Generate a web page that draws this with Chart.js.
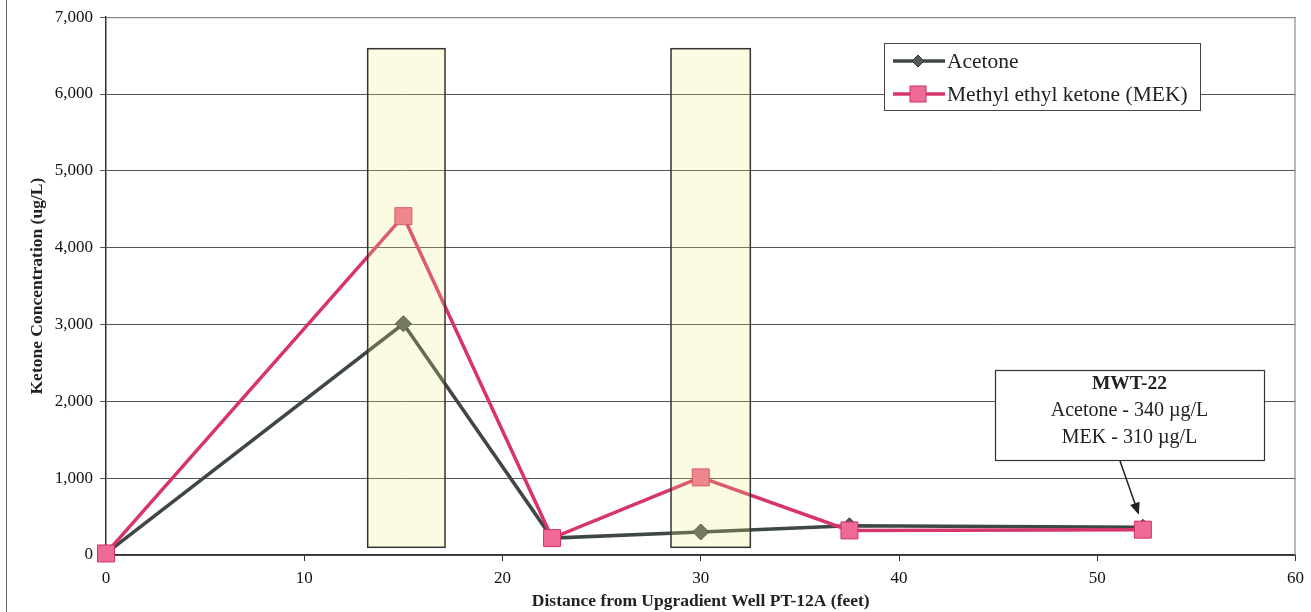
<!DOCTYPE html>
<html>
<head>
<meta charset="UTF-8">
<title>Ketone Concentration</title>
<script src="https://cdn.jsdelivr.net/npm/chart.js@4"></script>
<style>
  html, body { margin: 0; padding: 0; background: #fff; }
  #wrap { width: 1311px; height: 612px; }
</style>
</head>
<body>
<div id="wrap"><canvas id="myChart" width="1311" height="612"></canvas></div>
<script>
// distance from upgradient well (feet)
const distance = [0, 15, 22.5, 30, 37.5, 52.3];
const acetone = [20, 3010, 220, 300, 380, 360];
const mek = [20, 4410, 220, 1010, 320, 330];
const seriesNames = ['Acetone', 'Methyl ethyl ketone (MEK)'];
// shaded zones along the transect: [from, to] in feet, concentration range
const zones = [[13.2, 17.1], [28.5, 32.5]];
const zoneRange = [100, 6590];
const noteLines = ['MWT-22', 'Acetone - 340 \u00b5g/L', 'MEK - 310 \u00b5g/L'];

const serif = '"Liberation Serif", "Times New Roman", serif';
const acetoneColor = '#3e4743';
const mekColor = '#d8346c';

function pts(ys) {
  return distance.map((x, i) => ({ x: x, y: ys[i] }));
}

// frame, yellow zones, legend and callout box
const extras = {
  id: 'extras',
  beforeDatasetsDraw(chart) {
    const ctx = chart.ctx, a = chart.chartArea;
    ctx.save();
    ctx.strokeStyle = '#8a8a8a';
    ctx.lineWidth = 1.2;
    ctx.beginPath();
    ctx.moveTo(a.left, a.top + 0.5);
    ctx.lineTo(a.right - 0.5, a.top + 0.5);
    ctx.lineTo(a.right - 0.5, a.bottom);
    ctx.stroke();
    // outer frame, only left edge shows
    ctx.strokeStyle = '#666';
    ctx.lineWidth = 1;
    ctx.beginPath();
    ctx.moveTo(6.5, 0);
    ctx.lineTo(6.5, 612);
    ctx.stroke();
    ctx.restore();
  },
  afterDatasetsDraw(chart) {
    const ctx = chart.ctx;
    const xs = chart.scales.x, ys = chart.scales.y;
    ctx.save();
    zones.forEach(z => {
      const x1 = xs.getPixelForValue(z[0]), x2 = xs.getPixelForValue(z[1]);
      const y1 = ys.getPixelForValue(zoneRange[1]), y2 = ys.getPixelForValue(zoneRange[0]);
      ctx.fillStyle = 'rgba(238, 238, 120, 0.22)';
      ctx.fillRect(x1, y1, x2 - x1, y2 - y1);
      ctx.strokeStyle = '#333';
      ctx.lineWidth = 1.5;
      ctx.strokeRect(x1, y1, x2 - x1, y2 - y1);
    });

    // legend
    const lx = 884, ly = 43, lw = 316, lh = 67;
    ctx.fillStyle = '#fff';
    ctx.fillRect(lx, ly, lw, lh);
    ctx.strokeStyle = '#444';
    ctx.lineWidth = 1;
    ctx.strokeRect(lx + 0.5, ly + 0.5, lw, lh);
    const rows = [61, 94];
    const dsets = chart.data.datasets;
    rows.forEach((ry, i) => {
      const ds = dsets[i];
      ctx.strokeStyle = ds.borderColor;
      ctx.lineWidth = 3.5;
      ctx.beginPath();
      ctx.moveTo(893, ry);
      ctx.lineTo(945, ry);
      ctx.stroke();
      ctx.fillStyle = ds.pointBackgroundColor;
      ctx.strokeStyle = ds.pointBorderColor;
      ctx.lineWidth = 1;
      if (i === 0) {
        ctx.beginPath();
        ctx.moveTo(918, ry - 6);
        ctx.lineTo(924, ry);
        ctx.lineTo(918, ry + 6);
        ctx.lineTo(912, ry);
        ctx.closePath();
        ctx.fill();
        ctx.stroke();
      } else {
        ctx.fillRect(910, ry - 8, 16, 16);
        ctx.strokeRect(910, ry - 8, 16, 16);
      }
      ctx.fillStyle = '#222';
      ctx.font = '21.5px ' + serif;
      ctx.textAlign = 'left';
      ctx.textBaseline = 'middle';
      ctx.fillText(seriesNames[i], 947, ry + 1);
    });

    // callout for MWT-22
    const bx = 995, by = 370, bw = 269, bh = 90;
    ctx.fillStyle = '#fff';
    ctx.fillRect(bx, by, bw, bh);
    ctx.strokeStyle = '#333';
    ctx.lineWidth = 1.2;
    ctx.strokeRect(bx + 0.5, by + 0.5, bw, bh);
    ctx.fillStyle = '#222';
    ctx.textAlign = 'center';
    ctx.textBaseline = 'middle';
    ctx.font = 'bold 19.5px ' + serif;
    ctx.fillText(noteLines[0], bx + bw / 2, by + 14);
    ctx.font = '20px ' + serif;
    ctx.fillText(noteLines[1], bx + bw / 2, by + 41);
    ctx.fillText(noteLines[2], bx + bw / 2, by + 68);

    // arrow to last point
    const last = distance.length - 1;
    const tx = xs.getPixelForValue(distance[last]) - 4;
    const ty = ys.getPixelForValue(mek[last]) - 15;
    const sx = 1120, sy = by + bh + 1;
    const ang = Math.atan2(ty - sy, tx - sx);
    ctx.strokeStyle = '#222';
    ctx.lineWidth = 1.5;
    ctx.beginPath();
    ctx.moveTo(sx, sy);
    ctx.lineTo(tx - 8 * Math.cos(ang), ty - 8 * Math.sin(ang));
    ctx.stroke();
    ctx.fillStyle = '#222';
    ctx.beginPath();
    ctx.moveTo(tx, ty);
    ctx.lineTo(tx - 12 * Math.cos(ang) + 5 * Math.sin(ang), ty - 12 * Math.sin(ang) - 5 * Math.cos(ang));
    ctx.lineTo(tx - 12 * Math.cos(ang) - 5 * Math.sin(ang), ty - 12 * Math.sin(ang) + 5 * Math.cos(ang));
    ctx.closePath();
    ctx.fill();
    ctx.restore();
  }
};

const ctx = document.getElementById('myChart').getContext('2d');
const chart = new Chart(ctx, {
  type: 'line',
  data: {
    datasets: [{
      label: seriesNames[0],
      data: pts(acetone),
      order: 1,
      clip: false,
      borderColor: acetoneColor,
      borderWidth: 3.5,
      pointStyle: 'rectRot',
      pointRadius: 8,
      pointBackgroundColor: '#555a58',
      pointBorderColor: '#333',
      pointBorderWidth: 1,
      tension: 0
    }, {
      label: seriesNames[1],
      data: pts(mek),
      order: 0,
      clip: false,
      borderColor: mekColor,
      borderWidth: 3.5,
      pointStyle: 'rect',
      pointRadius: 12,
      pointBackgroundColor: '#ef6a95',
      pointBorderColor: '#d0306a',
      pointBorderWidth: 1,
      tension: 0
    }]
  },
  options: {
    responsive: false,
    animation: false,
    layout: { padding: { left: 0, right: 10, top: 14, bottom: 0 } },
    plugins: {
      legend: { display: false },
      tooltip: { enabled: false }
    },
    scales: {
      x: {
        type: 'linear',
        min: 0,
        max: 60,
        afterFit(scale) { scale.height = 57; },
        ticks: {
          stepSize: 10,
          color: '#111',
          padding: 7,
          font: { family: serif, size: 17 }
        },
        grid: { drawOnChartArea: false, drawTicks: true, tickLength: 6, color: '#333' },
        border: { color: '#333', width: 1.5 },
        title: {
          display: true,
          text: 'Distance from Upgradient Well PT-12A (feet)',
          color: '#222',
          font: { family: serif, size: 17.5, weight: 'bold' },
          padding: { top: 0, bottom: 0 }
        }
      },
      y: {
        min: 0,
        max: 7000,
        afterFit(scale) { scale.width = 106; },
        ticks: {
          stepSize: 1000,
          color: '#111',
          padding: 7,
          font: { family: serif, size: 17 },
          callback: v => v.toLocaleString('en-US')
        },
        grid: { color: '#555', lineWidth: 1, tickLength: 6, drawTicks: true },
        border: { color: '#333', width: 1.5 },
        title: {
          display: true,
          text: 'Ketone Concentration (ug/L)',
          color: '#222',
          font: { family: serif, size: 17.5, weight: 'bold' },
          padding: { top: 27, bottom: 0 }
        }
      }
    }
  },
  plugins: [extras]
});
</script>
</body>
</html>
